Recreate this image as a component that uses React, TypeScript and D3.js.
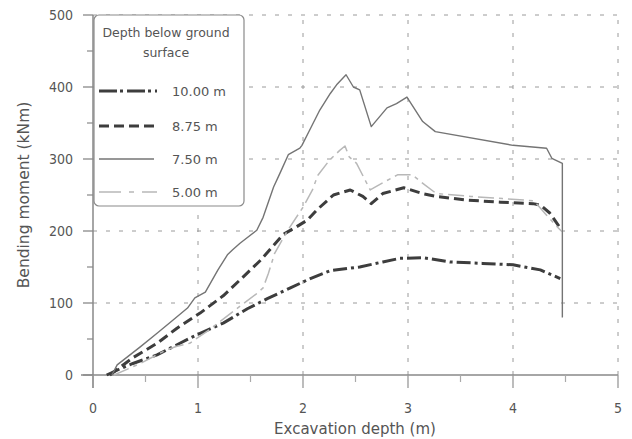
import React from "react";
import * as d3 from "d3";

const xTicks = [0, 1, 2, 3, 4, 5];
const yTicks = [0, 100, 200, 300, 400, 500];
const xMinor = [0.5, 1.5, 2.5, 3.5, 4.5];
const yMinor = [50, 150, 250, 350, 450];

const depth1000: [number, number][] = [
  [0.13, 0], [0.25, 8], [0.38, 16], [0.61, 28], [0.8, 42], [0.99, 56], [1.24, 72],
  [1.47, 92], [1.66, 106], [1.88, 121], [2.07, 134], [2.26, 145], [2.54, 150],
  [2.76, 157], [2.92, 162], [3.14, 163], [3.4, 157], [3.71, 155], [4.0, 153],
  [4.26, 146], [4.45, 134],
];

const depth875: [number, number][] = [
  [0.16, 0], [0.25, 10], [0.38, 24], [0.61, 44], [0.8, 65], [1.02, 86], [1.24, 110],
  [1.4, 132], [1.6, 160], [1.81, 195], [1.94, 206], [2.04, 215], [2.13, 229],
  [2.29, 250], [2.45, 257], [2.57, 248], [2.65, 238], [2.76, 252], [2.96, 260],
  [3.14, 252], [3.27, 248], [3.56, 243], [3.88, 240], [4.19, 238], [4.26, 236],
  [4.35, 225], [4.45, 204],
];

const depth750: [number, number][] = [
  [0.18, 0], [0.23, 14], [0.45, 39], [0.61, 58], [0.76, 76], [0.9, 93], [0.97, 107],
  [1.07, 115], [1.19, 146], [1.28, 167], [1.33, 174], [1.4, 183], [1.56, 201],
  [1.62, 219], [1.72, 261], [1.78, 280], [1.86, 306], [1.97, 315], [1.99, 319],
  [2.07, 342], [2.16, 368], [2.26, 391], [2.32, 403], [2.41, 417], [2.48, 400],
  [2.54, 396], [2.65, 345], [2.8, 371], [2.89, 377], [2.99, 386], [3.14, 352],
  [3.26, 338], [4.0, 319], [4.32, 315], [4.37, 301], [4.47, 294], [4.47, 80],
];

const depth500: [number, number][] = [
  [0.2, 0], [0.45, 16], [0.7, 35], [0.8, 40], [0.92, 44], [1.1, 62], [1.35, 90],
  [1.55, 112], [1.62, 121], [1.67, 141], [1.73, 169], [1.85, 200], [2.0, 233],
  [2.09, 257], [2.14, 277], [2.25, 298], [2.35, 312], [2.4, 318], [2.44, 303],
  [2.51, 294], [2.64, 257], [2.76, 267], [2.9, 278], [3.04, 278], [3.16, 264],
  [3.27, 252], [3.6, 248], [3.9, 245], [4.2, 242], [4.32, 222], [4.42, 206], [4.46, 200],
];

const legendTitle = ["Depth below ground", "surface"];
const legendLabels = ["10.00 m", "8.75 m", "7.50 m", "5.00 m"];

const FONT = "'DejaVu Sans', sans-serif";
const FONTC = "'DejaVu Sans Condensed', 'DejaVu Sans', sans-serif";
const TEXT = "#555";

export default function App() {
  const x = d3.scaleLinear().domain([0, 5]).range([93, 618]);
  const y = d3.scaleLinear().domain([0, 500]).range([375, 15]);
  const line = d3
    .line<[number, number]>()
    .x((d) => x(d[0]))
    .y((d) => y(d[1]))
    .curve(d3.curveLinear);

  const series = [
    { data: depth1000, stroke: "#3d3d3d", width: 3, dash: "14 4 3 4" },
    { data: depth875, stroke: "#3d3d3d", width: 3, dash: "10 5" },
    { data: depth750, stroke: "#747474", width: 1.4, dash: "" },
    { data: depth500, stroke: "#b8b8b8", width: 1.5, dash: "16 5 4 5" },
  ];

  const legendY = [91, 126, 159, 192];

  return (
    <svg
      width={632}
      height={439}
      style={{ position: "absolute", left: 0, top: 0, background: "#fff" }}
    >
      <rect x={0} y={0} width={632} height={439} fill="#fff" />
      {/* grid */}
      {yTicks.filter((t) => t > 0).map((t) => (
        <line key={"gy" + t} x1={x(0)} x2={x(5)} y1={y(t)} y2={y(t)}
          stroke="#9a9a9a" strokeWidth={1} strokeDasharray="4 9" />
      ))}
      {xTicks.filter((t) => t > 0).map((t) => (
        <line key={"gx" + t} x1={x(t)} x2={x(t)} y1={y(0)} y2={y(500)}
          stroke="#9a9a9a" strokeWidth={1} strokeDasharray="4 9" />
      ))}
      {/* axes */}
      <line x1={x(0)} x2={x(0)} y1={y(500)} y2={y(0) + 13} stroke="#888" strokeWidth={1.5} />
      <line x1={x(0) - 12} x2={x(5)} y1={y(0)} y2={y(0)} stroke="#888" strokeWidth={1.5} />
      {yTicks.map((t) => (
        <g key={"yt" + t}>
          <line x1={x(0) - 10} x2={x(0)} y1={y(t)} y2={y(t)} stroke="#888" strokeWidth={1.3} />
          <text x={73} y={y(t)} dy="0.36em" textAnchor="end" fontFamily={FONTC} fontSize={14} fill={TEXT}>
            {t}
          </text>
        </g>
      ))}
      {yMinor.map((t) => (
        <line key={"ym" + t} x1={x(0) - 6} x2={x(0)} y1={y(t)} y2={y(t)} stroke="#888" strokeWidth={1.2} />
      ))}
      {xTicks.map((t) => (
        <g key={"xt" + t}>
          <line x1={x(t)} x2={x(t)} y1={y(0)} y2={y(0) + 13} stroke="#999" strokeWidth={1.3} />
          <text x={x(t)} y={413} textAnchor="middle" fontFamily={FONTC} fontSize={14} fill={TEXT}>
            {t}
          </text>
        </g>
      ))}
      {xMinor.map((t) => (
        <line key={"xm" + t} x1={x(t)} x2={x(t)} y1={y(0)} y2={y(0) + 7} stroke="#aaa" strokeWidth={1.2} />
      ))}
      <text x={355} y={434} textAnchor="middle" fontFamily={FONT} fontSize={15} fill={TEXT}>
        Excavation depth (m)
      </text>
      <text
        transform={`translate(29,195) rotate(-90)`}
        textAnchor="middle"
        fontFamily={FONT}
        fontSize={15.5}
        fill={TEXT}
      >
        Bending moment (kNm)
      </text>
      {/* series */}
      {series.map((s, i) => (
        <path key={"s" + i} d={line(s.data) || ""} fill="none" stroke={s.stroke}
          strokeWidth={s.width} strokeDasharray={s.dash || undefined}
          strokeLinejoin="round" />
      ))}
      {/* legend */}
      <rect x={94} y={15} width={150} height={191} rx={5} ry={5} fill="#fff" stroke="#8a8a8a" strokeWidth={1.2} />
      {legendTitle.map((t, i) => (
        <text key={"lt" + i} x={166} y={37 + i * 20} textAnchor="middle" fontFamily={FONT} fontSize={12.5} fill={TEXT}>
          {t}
        </text>
      ))}
      {series.map((s, i) => (
        <g key={"lg" + i}>
          <line x1={99} x2={i === 2 ? 154 : 157} y1={legendY[i]} y2={legendY[i]} stroke={s.stroke}
            strokeWidth={s.width} strokeDasharray={i === 0 ? "18 3 3 4" : i === 3 ? "22 8 5 8" : s.dash || undefined} />
          <text x={172} y={legendY[i]} dy="0.36em" fontFamily={FONT} fontSize={13} fill={TEXT}>
            {legendLabels[i]}
          </text>
        </g>
      ))}
    </svg>
  );
}
